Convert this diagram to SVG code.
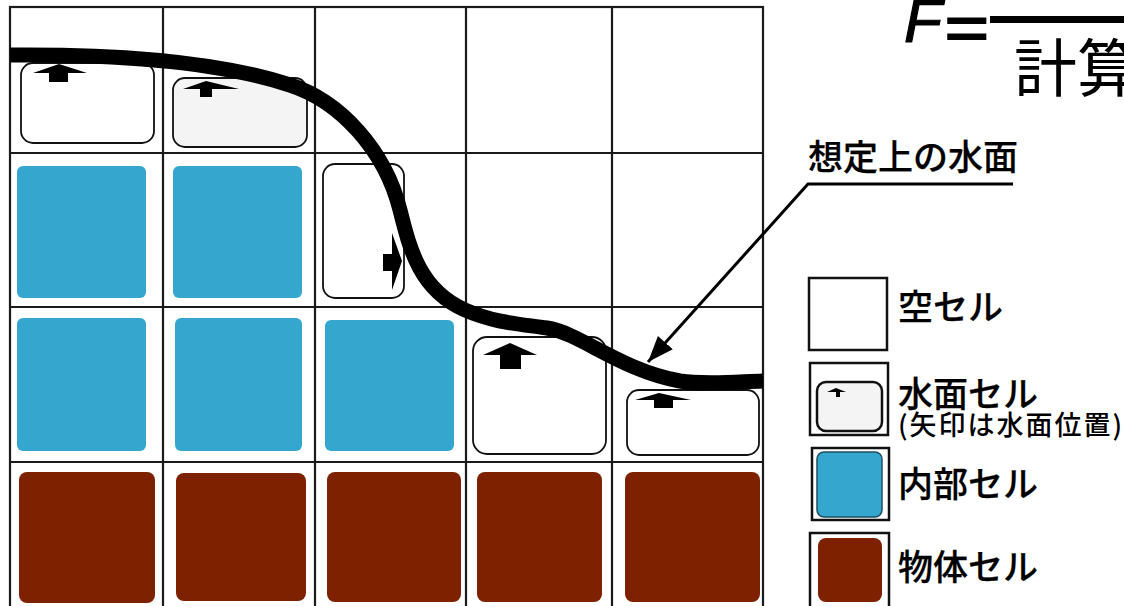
<svg xmlns="http://www.w3.org/2000/svg" width="1124" height="606" viewBox="0 0 1124 606">
<style>
.grid{stroke:#1a1a1a;stroke-width:2.2;fill:none}
.blue{fill:#35a7ce}
.brown{fill:#7e2100}
.surf{fill:#fff;stroke:#111;stroke-width:1.8}
.surf2{fill:#f4f4f4;stroke:#111;stroke-width:1.8}
.arr{fill:#000}
.jp{font-family:"Noto Sans CJK JP","Noto Sans CJK SC",sans-serif;fill:#000}
.lbl{font-size:35px;font-weight:500;stroke:#000;stroke-width:0.25}
.lbox{fill:#fff;stroke:#111;stroke-width:2.5}
</style>
<defs>
<marker id="ah" markerUnits="userSpaceOnUse" markerWidth="30" markerHeight="24" refX="26" refY="10" orient="auto">
<path d="M0,0 L26,10 L0,20 Z" fill="#000"/>
</marker>
</defs>
<rect width="1124" height="606" fill="#fff"/>

<!-- title -->
<g id="formula">
<text x="904" y="42" font-family="Liberation Sans, sans-serif" font-style="italic" font-size="62" stroke="#000" stroke-width="1.2">F</text>
<text transform="translate(944,48) scale(1.3,1)" x="0" y="0" font-family="Liberation Sans, sans-serif" font-weight="bold" font-size="60">=</text>
<rect x="990" y="16" width="134" height="7" fill="#000"/>
<text x="1014" y="91" class="jp" font-size="63">計算</text>
</g>

<!-- grid -->
<g id="grid" class="grid">
<rect x="10" y="7" width="753" height="610"/>
<line x1="163" y1="7" x2="163" y2="606"/>
<line x1="315" y1="7" x2="315" y2="606"/>
<line x1="466" y1="7" x2="466" y2="606"/>
<line x1="612" y1="7" x2="612" y2="606"/>
<line x1="10" y1="153" x2="763" y2="153"/>
<line x1="10" y1="307" x2="763" y2="307"/>
<line x1="10" y1="462" x2="763" y2="462"/>
</g>

<!-- row 0 -->
<g id="cell-r0c0"><rect class="surf" x="21" y="63" width="133" height="80" rx="12"/>
<path class="arr" d="M59,64 L87,73 L68,73 L68,82 L49,82 L49,73 L33,73 Z"/></g>
<g id="cell-r0c1"><rect class="surf2" x="173" y="78" width="134" height="69" rx="12"/>
<path class="arr" d="M206,81 L239,89 L212,89 L212,97 L200,97 L200,89 L183,89 Z"/></g>

<!-- row 1 -->
<g id="cell-r1c0"><rect class="blue" x="17" y="166" width="129" height="132" rx="6"/></g>
<g id="cell-r1c1"><rect class="blue" x="173" y="166" width="129" height="132" rx="6"/></g>
<g id="cell-r1c2"><rect class="surf" x="323" y="164" width="81" height="134" rx="12"/>
<path class="arr" d="M402,261 L392,290 L392,271 L383,271 L383,254 L392,254 L392,233 Z"/></g>

<!-- row 2 -->
<g id="cell-r2c0"><rect class="blue" x="17" y="318" width="129" height="133" rx="6"/></g>
<g id="cell-r2c1"><rect class="blue" x="175" y="318" width="127" height="133" rx="6"/></g>
<g id="cell-r2c2"><rect class="blue" x="325" y="320" width="129" height="131" rx="6"/></g>
<g id="cell-r2c3"><rect class="surf" x="473" y="337" width="133" height="117" rx="14"/>
<path class="arr" d="M510,343 L537,355 L521,355 L521,369 L500,369 L500,355 L483,355 Z"/></g>
<g id="cell-r2c4"><rect class="surf" x="627" y="390" width="132" height="65" rx="12"/>
<path class="arr" d="M659,393 L691,400 L673,400 L673,408 L654,408 L654,400 L635,400 Z"/></g>

<!-- row 3 -->
<g id="cell-r3c0"><rect class="brown" x="19" y="472" width="136" height="131" rx="8"/></g>
<g id="cell-r3c1"><rect class="brown" x="176" y="473" width="130" height="128" rx="8"/></g>
<g id="cell-r3c2"><rect class="brown" x="327" y="472" width="134" height="130" rx="8"/></g>
<g id="cell-r3c3"><rect class="brown" x="477" y="472" width="125" height="130" rx="8"/></g>
<g id="cell-r3c4"><rect class="brown" x="625" y="472" width="135" height="130" rx="8"/></g>

<!-- water surface curve -->
<g id="water-surface">
<path d="M10,55 C120,54 220,62 290,85 C340,101 385,150 400,210 C410,250 420,290 465,310 C495,323 520,324 547,328 C580,333 620,370 680,381 C705,385 735,382 763,381" fill="none" stroke="#000" stroke-width="15"/>
</g>

<!-- label -->
<g id="label-surface">
<text x="808" y="170" class="jp lbl">想定上の水面</text>
</g>

<g id="connectors">
<path d="M1013,184 L808,184 L648,362" fill="none" stroke="#000" stroke-width="3" marker-end="url(#ah)"/>
</g>

<!-- legend -->
<g id="legend-empty">
<rect class="lbox" x="809" y="278" width="78" height="72"/>
<text x="898" y="320" class="jp lbl">空セル</text>
</g>
<g id="legend-surface">
<rect class="lbox" x="810" y="363" width="78" height="72"/>
<rect x="817" y="382" width="65" height="49" rx="9" fill="#f4f4f4" stroke="#111" stroke-width="2.5"/>
<path class="arr" d="M836,388 L846,392 L840,392 L840,397 L836,397 L836,392 L827,392 Z"/>
<text x="898" y="407" class="jp lbl" font-size="34">水面セル</text>
<text x="898" y="435" class="jp" font-size="27" font-weight="500" letter-spacing="2">(矢印は水面位置)</text>
</g>
<g id="legend-interior">
<rect class="lbox" x="812" y="448" width="77" height="72"/>
<rect x="817" y="452" width="65" height="65" rx="7" fill="#35a7ce" stroke="#1d4f60" stroke-width="1.5"/>
<text x="898" y="497" class="jp lbl">内部セル</text>
</g>
<g id="legend-object">
<rect class="lbox" x="810" y="533" width="79" height="80"/>
<rect x="818" y="538" width="64" height="64" rx="8" fill="#7e2100"/>
<text x="898" y="580" class="jp lbl">物体セル</text>
</g>
</svg>
